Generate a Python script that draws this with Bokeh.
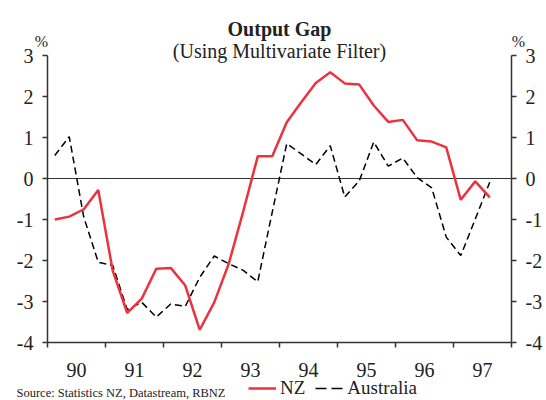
import math
from bokeh.plotting import figure
from bokeh.models import (Range1d, LinearAxis, FixedTicker, Label,
                          Legend, LegendItem)
from bokeh.embed import file_html
from bokeh.resources import INLINE

# ---------------- data ----------------
quarters = [f"{y}Q{q}" for y in range(1990, 1998) for q in range(1, 5)][:31]
nz = [-1.00, -0.93, -0.75, -0.28, -2.25, -3.28, -2.93, -2.20, -2.18, -2.61,
      -3.69, -3.02, -2.08, -0.80, 0.54, 0.54, 1.37, 1.86, 2.33, 2.59,
      2.32, 2.29, 1.78, 1.38, 1.43, 0.93, 0.90, 0.76, -0.52, -0.07, -0.46]
australia = [0.56, 1.02, -0.94, -2.04, -2.12, -3.20, -3.02, -3.38, -3.06, -3.12,
             -2.41, -1.89, -2.08, -2.24, -2.52, -0.82, 0.85, 0.60, 0.34, 0.80,
             -0.45, -0.06, 0.89, 0.30, 0.50, 0.02, -0.23, -1.43, -1.88, -0.99,
             -0.09]
year_labels = ["90", "91", "92", "93", "94", "95", "96", "97"]
y_ticks = [-4, -3, -2, -1, 0, 1, 2, 3]

title = "Output Gap"
subtitle = "(Using Multivariate Filter)"
source = "Source: Statistics NZ, Datastream, RBNZ"

# quarter -> fractional year (mid-quarter)
xq = [int(s[:4]) + (int(s[5]) - 0.5) / 4 for s in quarters]
years = list(range(1990, 1999))

FONT = "Liberation Serif"
RED = "#EB3340"
AX = "#333333"
TXT = "#222222"

W, H = 546, 400
# plot area inside the canvas (pixels from top-left)
PL, PR, PT, PB = 47, 511, 55, 342
xpx = (PR - PL) / (years[-1] - years[0])
ypx = (PB - PT) / (y_ticks[-1] - y_ticks[0])
x_range = Range1d(years[0] - PL / xpx, years[-1] + (W - PR) / xpx)
y_range = Range1d(y_ticks[0] - (H - PB) / ypx, y_ticks[-1] + PT / ypx)

p = figure(width=W, height=H, output_backend="svg", toolbar_location=None,
           x_range=x_range, y_range=y_range, min_border=0,
           x_axis_location=None, y_axis_location=None)
p.outline_line_color = None
p.background_fill_color = "white"
p.border_fill_color = "white"
p.xgrid.visible = False
p.ygrid.visible = False

# x axis: labels mid-year, tick marks at year boundaries (minor ticks)
xa = LinearAxis(fixed_location=y_ticks[0], bounds=(years[0], years[-1]))
xa.ticker = FixedTicker(ticks=[y + 0.5 for y in years[:-1]], minor_ticks=years)
xa.major_label_overrides = {y + 0.5: lab for y, lab in zip(years[:-1], year_labels)}
xa.major_tick_line_color = None
xa.major_tick_out = 0
xa.major_tick_in = 0
xa.minor_tick_out = 5
xa.minor_tick_in = 0
xa.minor_tick_line_color = AX
xa.minor_tick_line_width = 1.5
xa.axis_line_color = AX
xa.axis_line_width = 1.5
xa.major_label_standoff = 15
xa.major_label_text_font = FONT
xa.major_label_text_font_size = "20px"
xa.major_label_text_color = TXT
p.add_layout(xa, "below")


def make_y(loc):
    ax = LinearAxis(fixed_location=loc, bounds=(y_ticks[0], y_ticks[-1]))
    ax.ticker = FixedTicker(ticks=y_ticks, minor_ticks=[])
    ax.major_label_overrides = {t: str(t) for t in y_ticks}
    ax.major_tick_out = 5
    ax.major_tick_in = 0
    ax.major_tick_line_color = AX
    ax.major_tick_line_width = 1.5
    ax.axis_line_color = AX
    ax.axis_line_width = 1.5
    ax.major_label_standoff = 9
    ax.major_label_text_font = FONT
    ax.major_label_text_font_size = "20px"
    ax.major_label_text_color = TXT
    return ax


p.add_layout(make_y(years[0]), "left")
p.add_layout(make_y(years[-1]), "right")

# zero line between the two axes
p.line([years[0], years[-1]], [0, 0], line_color=AX, line_width=1)

p.line(xq, australia, line_color="black", line_width=1.5, line_dash="7 4")
p.line(xq, nz, line_color=RED, line_width=2.5)

# legend proxies (no visible data)
nan = [math.nan]
r_nz = p.line(nan, nan, line_color=RED, line_width=2.5)
r_au = p.line(nan, nan, line_color="black", line_width=1.5, line_dash="11 5")
legend = Legend(items=[LegendItem(label="NZ", renderers=[r_nz]),
                       LegendItem(label="Australia", renderers=[r_au])],
                orientation="horizontal", location=(248, 1),
                glyph_width=28, glyph_height=20, label_height=20,
                label_standoff=4, spacing=10, padding=0, margin=0,
                border_line_color=None, background_fill_alpha=0,
                label_text_font=FONT, label_text_font_size="19px",
                label_text_color=TXT)
p.add_layout(legend, "center")


def lab(text, x, y_top, size, align="center", style="normal"):
    # y_top: baseline position measured in pixels from the top of the canvas
    p.add_layout(Label(x=x, y=H - y_top, x_units="screen", y_units="screen",
                       text=text, text_font=FONT, text_font_size=size,
                       text_font_style=style, text_align=align,
                       text_baseline="alphabetic", text_color=TXT))


lab(title, 279, 28, "20px", style="bold")
lab(subtitle, 279, 50, "20px")
lab("%", 41, 41, "16px")
lab("%", 518, 41, "16px")
lab(source, 16, 392, "12.5px", align="left")

open("out.html", "w").write(file_html(p, INLINE))
